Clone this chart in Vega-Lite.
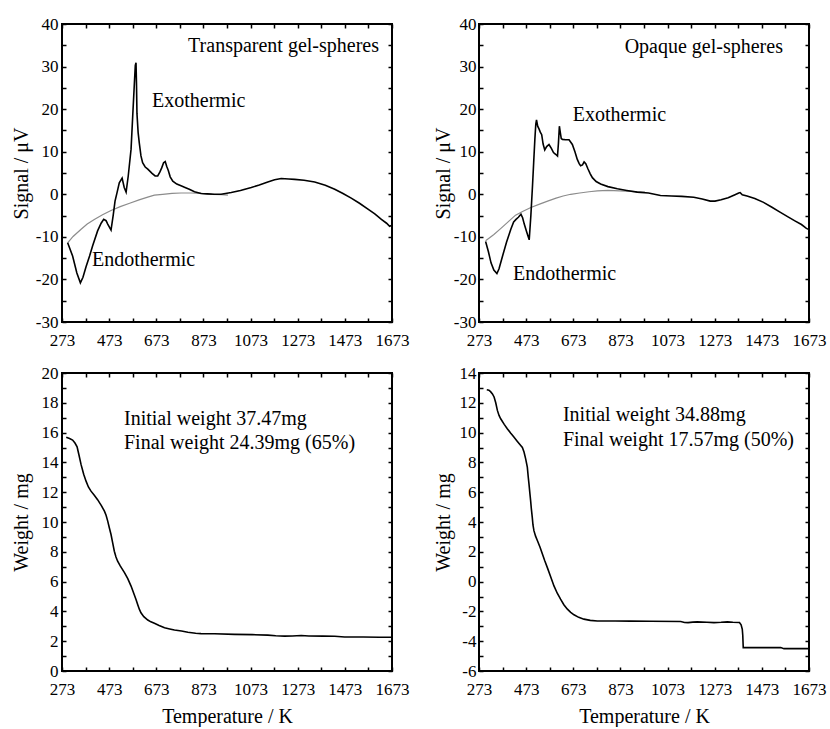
{
"$schema":"https://vega.github.io/schema/vega-lite/v6.json",
"padding":{"left":10,"top":14,"right":5,"bottom":0},
"config":{"font":"Liberation Serif","view":{"stroke":"black","strokeWidth":2},
 "axis":{"grid":false,"domain":false,"tickColor":"black","tickWidth":1.5,"labelColor":"black","labelFontSize":17,"titleFontSize":20,"titleFontWeight":"normal","titleColor":"black","labelFont":"Liberation Serif","titleFont":"Liberation Serif","labelOverlap":false,"labelFlush":false},
 "text":{"font":"Liberation Serif","fontSize":20}},
"datasets":{
"dta_t":[{"T":297,"S":-11.4},{"T":318,"S":-14.5},{"T":336,"S":-18.5},{"T":351,"S":-20.8},{"T":362,"S":-19.5},{"T":375,"S":-17},{"T":390,"S":-14.5},{"T":403,"S":-12.1},{"T":424,"S":-8.6},{"T":439,"S":-6.8},{"T":450,"S":-5.9},{"T":460,"S":-6.2},{"T":467,"S":-7.0},{"T":481,"S":-8.4},{"T":490,"S":-5},{"T":498,"S":-1.6},{"T":507,"S":0.5},{"T":516,"S":2.7},{"T":528,"S":3.8},{"T":537,"S":1.6},{"T":545,"S":0.5},{"T":554,"S":4.3},{"T":566,"S":10.6},{"T":573,"S":18.4},{"T":580,"S":26},{"T":584,"S":30.3},{"T":587,"S":30.9},{"T":589,"S":26},{"T":591,"S":19},{"T":596,"S":14.5},{"T":601,"S":12},{"T":608,"S":9},{"T":615,"S":7.4},{"T":626,"S":6.4},{"T":637,"S":5.9},{"T":655,"S":4.9},{"T":668,"S":4.3},{"T":679,"S":4.3},{"T":688,"S":5.2},{"T":696,"S":6.2},{"T":704,"S":7.4},{"T":711,"S":7.7},{"T":717,"S":6.6},{"T":724,"S":5.6},{"T":732,"S":4.1},{"T":743,"S":3.1},{"T":760,"S":2.4},{"T":778,"S":2.0},{"T":795,"S":1.6},{"T":813,"S":1.2},{"T":835,"S":0.6},{"T":863,"S":0.2},{"T":890,"S":0.1},{"T":920,"S":0},{"T":948,"S":0},{"T":991,"S":0.4},{"T":1030,"S":0.9},{"T":1076,"S":1.6},{"T":1110,"S":2.2},{"T":1146,"S":2.9},{"T":1175,"S":3.4},{"T":1203,"S":3.7},{"T":1235,"S":3.6},{"T":1260,"S":3.5},{"T":1300,"S":3.3},{"T":1345,"S":2.9},{"T":1390,"S":2.1},{"T":1430,"S":1.2},{"T":1465,"S":0.2},{"T":1500,"S":-0.9},{"T":1535,"S":-2.1},{"T":1571,"S":-3.5},{"T":1600,"S":-4.6},{"T":1628,"S":-5.9},{"T":1650,"S":-6.8},{"T":1663,"S":-7.5},{"T":1673,"S":-7.3}],
"base_t":[{"T":297,"S":-11.4},{"T":320,"S":-9.9},{"T":354,"S":-8.2},{"T":380,"S":-7.0},{"T":410,"S":-5.9},{"T":445,"S":-4.8},{"T":481,"S":-3.8},{"T":520,"S":-2.9},{"T":560,"S":-2.1},{"T":600,"S":-1.3},{"T":640,"S":-0.6},{"T":665,"S":-0.2},{"T":700,"S":0},{"T":740,"S":0.2},{"T":778,"S":0.3},{"T":820,"S":0.3},{"T":863,"S":0.2},{"T":910,"S":0},{"T":950,"S":-0.1},{"T":977,"S":-0.2}],
"dta_o":[{"T":301,"S":-11.1},{"T":313,"S":-13.5},{"T":324,"S":-16.1},{"T":336,"S":-17.8},{"T":349,"S":-18.6},{"T":358,"S":-17.5},{"T":373,"S":-14.5},{"T":390,"S":-11.2},{"T":408,"S":-8.2},{"T":420,"S":-6.5},{"T":430,"S":-5.9},{"T":440,"S":-5.4},{"T":451,"S":-4.7},{"T":458,"S":-5.5},{"T":465,"S":-7.0},{"T":476,"S":-9.0},{"T":486,"S":-10.7},{"T":493,"S":-5},{"T":500,"S":2.0},{"T":505,"S":7.5},{"T":510,"S":12.9},{"T":514,"S":16.5},{"T":517,"S":17.5},{"T":522,"S":16},{"T":528,"S":15.3},{"T":533,"S":14.6},{"T":539,"S":14.0},{"T":545,"S":11.8},{"T":552,"S":10.4},{"T":560,"S":11.2},{"T":570,"S":11.7},{"T":580,"S":10.8},{"T":589,"S":9.8},{"T":598,"S":9.4},{"T":606,"S":9.0},{"T":610,"S":12},{"T":614,"S":16.0},{"T":618,"S":14.5},{"T":622,"S":13.1},{"T":627,"S":12.9},{"T":640,"S":12.8},{"T":655,"S":12.8},{"T":669,"S":11.7},{"T":680,"S":10.0},{"T":690,"S":8.2},{"T":698,"S":7.2},{"T":704,"S":6.7},{"T":712,"S":6.9},{"T":719,"S":7.6},{"T":726,"S":7.2},{"T":735,"S":6.0},{"T":745,"S":4.8},{"T":754,"S":3.9},{"T":770,"S":3.0},{"T":789,"S":2.4},{"T":820,"S":1.8},{"T":860,"S":1.3},{"T":900,"S":0.9},{"T":944,"S":0.5},{"T":992,"S":0.3},{"T":1043,"S":-0.3},{"T":1090,"S":-0.4},{"T":1133,"S":-0.5},{"T":1184,"S":-0.7},{"T":1220,"S":-1.1},{"T":1254,"S":-1.6},{"T":1274,"S":-1.6},{"T":1300,"S":-1.3},{"T":1330,"S":-0.8},{"T":1359,"S":-0.1},{"T":1375,"S":0.3},{"T":1381,"S":0.4},{"T":1390,"S":-0.1},{"T":1410,"S":-0.4},{"T":1443,"S":-1.0},{"T":1480,"S":-1.9},{"T":1514,"S":-3.0},{"T":1550,"S":-4.2},{"T":1584,"S":-5.3},{"T":1615,"S":-6.3},{"T":1641,"S":-7.1},{"T":1662,"S":-8.0},{"T":1673,"S":-8.3}],
"base_o":[{"T":301,"S":-10.9},{"T":335,"S":-9.5},{"T":366,"S":-8.0},{"T":400,"S":-6.3},{"T":428,"S":-4.9},{"T":460,"S":-4.0},{"T":493,"S":-3.1},{"T":530,"S":-2.3},{"T":564,"S":-1.6},{"T":600,"S":-0.9},{"T":630,"S":-0.4},{"T":662,"S":0},{"T":700,"S":0.3},{"T":740,"S":0.6},{"T":775,"S":0.8},{"T":820,"S":0.9},{"T":870,"S":0.8},{"T":916,"S":0.7},{"T":950,"S":0.6},{"T":977,"S":0.5}],
"tg_t":[{"T":291,"W":15.69},{"T":305,"W":15.6},{"T":318,"W":15.5},{"T":328,"W":15.3},{"T":337,"W":15.05},{"T":345,"W":14.5},{"T":354,"W":13.85},{"T":365,"W":13.2},{"T":375,"W":12.74},{"T":385,"W":12.35},{"T":396,"W":12.07},{"T":410,"W":11.8},{"T":424,"W":11.5},{"T":440,"W":11.1},{"T":453,"W":10.73},{"T":460,"W":10.45},{"T":467,"W":10.06},{"T":474,"W":9.6},{"T":481,"W":9.16},{"T":488,"W":8.6},{"T":495,"W":8.04},{"T":502,"W":7.65},{"T":509,"W":7.37},{"T":520,"W":7.05},{"T":530,"W":6.8},{"T":538,"W":6.6},{"T":552,"W":6.2},{"T":566,"W":5.7},{"T":573,"W":5.4},{"T":580,"W":5.1},{"T":587,"W":4.8},{"T":594,"W":4.47},{"T":601,"W":4.15},{"T":608,"W":3.91},{"T":620,"W":3.65},{"T":637,"W":3.42},{"T":650,"W":3.3},{"T":665,"W":3.2},{"T":685,"W":3.05},{"T":708,"W":2.9},{"T":730,"W":2.82},{"T":750,"W":2.75},{"T":780,"W":2.68},{"T":807,"W":2.6},{"T":840,"W":2.53},{"T":863,"W":2.51},{"T":920,"W":2.5},{"T":1005,"W":2.46},{"T":1080,"W":2.44},{"T":1146,"W":2.41},{"T":1180,"W":2.37},{"T":1217,"W":2.34},{"T":1250,"W":2.35},{"T":1288,"W":2.38},{"T":1320,"W":2.35},{"T":1380,"W":2.34},{"T":1430,"W":2.33},{"T":1472,"W":2.28},{"T":1550,"W":2.28},{"T":1620,"W":2.27},{"T":1673,"W":2.27}],
"tg_o":[{"T":306,"W":12.88},{"T":315,"W":12.85},{"T":322,"W":12.75},{"T":330,"W":12.6},{"T":337,"W":12.39},{"T":344,"W":12.0},{"T":351,"W":11.49},{"T":358,"W":11.15},{"T":365,"W":10.93},{"T":380,"W":10.55},{"T":393,"W":10.26},{"T":407,"W":9.97},{"T":421,"W":9.70},{"T":435,"W":9.42},{"T":450,"W":9.13},{"T":457,"W":9.0},{"T":464,"W":8.7},{"T":471,"W":8.24},{"T":478,"W":7.68},{"T":482,"W":7.0},{"T":485,"W":6.56},{"T":489,"W":5.9},{"T":492,"W":5.43},{"T":495,"W":4.9},{"T":499,"W":4.31},{"T":502,"W":3.8},{"T":506,"W":3.42},{"T":513,"W":3.05},{"T":521,"W":2.74},{"T":532,"W":2.3},{"T":542,"W":1.85},{"T":552,"W":1.4},{"T":563,"W":0.94},{"T":577,"W":0.32},{"T":591,"W":-0.29},{"T":605,"W":-0.78},{"T":619,"W":-1.18},{"T":633,"W":-1.55},{"T":648,"W":-1.85},{"T":662,"W":-2.06},{"T":676,"W":-2.23},{"T":696,"W":-2.4},{"T":718,"W":-2.52},{"T":745,"W":-2.6},{"T":775,"W":-2.64},{"T":850,"W":-2.64},{"T":916,"W":-2.65},{"T":1000,"W":-2.66},{"T":1129,"W":-2.68},{"T":1145,"W":-2.74},{"T":1160,"W":-2.75},{"T":1180,"W":-2.72},{"T":1199,"W":-2.7},{"T":1240,"W":-2.73},{"T":1270,"W":-2.75},{"T":1300,"W":-2.73},{"T":1327,"W":-2.7},{"T":1350,"W":-2.73},{"T":1378,"W":-2.75},{"T":1385,"W":-2.9},{"T":1390,"W":-3.2},{"T":1392,"W":-3.6},{"T":1394,"W":-4.43},{"T":1450,"W":-4.43},{"T":1500,"W":-4.43},{"T":1553,"W":-4.43},{"T":1567,"W":-4.5},{"T":1620,"W":-4.5},{"T":1673,"W":-4.5}],
"ann_tl":[{"T":808,"S":34.8,"label":"Transparent gel-spheres"},{"T":655,"S":21.8,"label":"Exothermic"},{"T":400,"S":-15.5,"label":"Endothermic"}],
"ann_tr":[{"T":891,"S":34.5,"label":"Opaque gel-spheres"},{"T":671,"S":18.6,"label":"Exothermic"},{"T":417,"S":-18.8,"label":"Endothermic"}],
"ann_bl":[{"T":536,"W":16.9,"label":"Initial weight 37.47mg"},{"T":536,"W":15.3,"label":"Final weight 24.39mg (65%)"}],
"ann_br":[{"T":629,"W":11.17,"label":"Initial weight 34.88mg"},{"T":629,"W":9.49,"label":"Final weight 17.57mg (50%)"}]
},
"columns":2,
"spacing":{"row":51,"column":87},
"bounds":"flush",
"concat":[
{"width":330,"height":298,
 "layer":[
  {"data":{"name":"base_t"},"mark":{"type":"line","color":"#8c8c8c","strokeWidth":1.2},
   "encoding":{"x":{"field":"T","type":"quantitative","scale":{"domain":[273,1673],"nice":false,"zero":false},"axis":null},
               "y":{"field":"S","type":"quantitative","scale":{"domain":[-30,40],"nice":false,"zero":false},"axis":null}}},
  {"data":{"name":"dta_t"},"mark":{"type":"line","color":"black","strokeWidth":1.6},
   "encoding":{"x":{"field":"T","type":"quantitative","axis":{"orient":"bottom","values":[273,373,473,573,673,773,873,973,1073,1173,1273,1373,1473,1573,1673],"labelExpr":"(datum.value-273)%200==0 ? ''+datum.value : ''","title":null,"tickSize":-4,"labelPadding":14}},
               "y":{"field":"S","type":"quantitative","axis":{"orient":"left","values":[-30,-25,-20,-15,-10,-5,0,5,10,15,20,25,30,35,40],"labelExpr":"datum.value%10==0 ? ''+datum.value : ''","title":"Signal / μV","titleX":-31,"tickSize":-4,"labelPadding":8}}}},
  {"data":{"name":"ann_tl"},"mark":{"type":"text","align":"left","baseline":"middle","color":"black"},
   "encoding":{"x":{"field":"T","type":"quantitative","axis":{"orient":"top","values":[273,373,473,573,673,773,873,973,1073,1173,1273,1373,1473,1573,1673],"labels":false,"title":null,"tickSize":-4}},
               "y":{"field":"S","type":"quantitative","axis":{"orient":"right","values":[-30,-25,-20,-15,-10,-5,0,5,10,15,20,25,30,35,40],"labels":false,"title":null,"tickSize":-4}},
               "text":{"field":"label"}}}
 ],
 "resolve":{"axis":{"x":"independent","y":"independent"}}},
{"width":330,"height":298,
 "layer":[
  {"data":{"name":"base_o"},"mark":{"type":"line","color":"#8c8c8c","strokeWidth":1.2},
   "encoding":{"x":{"field":"T","type":"quantitative","scale":{"domain":[273,1673],"nice":false,"zero":false},"axis":null},
               "y":{"field":"S","type":"quantitative","scale":{"domain":[-30,40],"nice":false,"zero":false},"axis":null}}},
  {"data":{"name":"dta_o"},"mark":{"type":"line","color":"black","strokeWidth":1.6},
   "encoding":{"x":{"field":"T","type":"quantitative","axis":{"orient":"bottom","values":[273,373,473,573,673,773,873,973,1073,1173,1273,1373,1473,1573,1673],"labelExpr":"(datum.value-273)%200==0 ? ''+datum.value : ''","title":null,"tickSize":-4,"labelPadding":14}},
               "y":{"field":"S","type":"quantitative","axis":{"orient":"left","values":[-30,-25,-20,-15,-10,-5,0,5,10,15,20,25,30,35,40],"labelExpr":"datum.value%10==0 ? ''+datum.value : ''","title":"Signal / μV","titleX":-26,"tickSize":-4,"labelPadding":7}}}},
  {"data":{"name":"ann_tr"},"mark":{"type":"text","align":"left","baseline":"middle","color":"black"},
   "encoding":{"x":{"field":"T","type":"quantitative","axis":{"orient":"top","values":[273,373,473,573,673,773,873,973,1073,1173,1273,1373,1473,1573,1673],"labels":false,"title":null,"tickSize":-4}},
               "y":{"field":"S","type":"quantitative","axis":{"orient":"right","values":[-30,-25,-20,-15,-10,-5,0,5,10,15,20,25,30,35,40],"labels":false,"title":null,"tickSize":-4}},
               "text":{"field":"label"}}}
 ],
 "resolve":{"axis":{"x":"independent","y":"independent"}}},
{"width":330,"height":298,
 "layer":[
  {"data":{"name":"tg_t"},"mark":{"type":"line","color":"black","strokeWidth":1.6},
   "encoding":{"x":{"field":"T","type":"quantitative","scale":{"domain":[273,1673],"nice":false,"zero":false},"axis":{"orient":"bottom","values":[273,373,473,573,673,773,873,973,1073,1173,1273,1373,1473,1573,1673],"labelExpr":"(datum.value-273)%200==0 ? ''+datum.value : ''","title":"Temperature / K","titleY":35,"tickSize":-4,"labelPadding":14}},
               "y":{"field":"W","type":"quantitative","scale":{"domain":[0,20],"nice":false,"zero":false},"axis":{"orient":"left","values":[0,1,2,3,4,5,6,7,8,9,10,11,12,13,14,15,16,17,18,19,20],"labelExpr":"datum.value%2==0 ? ''+datum.value : ''","title":"Weight / mg","titleX":-31,"tickSize":-4,"labelPadding":8}}}},
  {"data":{"name":"ann_bl"},"mark":{"type":"text","align":"left","baseline":"middle","color":"black"},
   "encoding":{"x":{"field":"T","type":"quantitative","axis":{"orient":"top","values":[273,373,473,573,673,773,873,973,1073,1173,1273,1373,1473,1573,1673],"labels":false,"title":null,"tickSize":-4}},
               "y":{"field":"W","type":"quantitative","axis":{"orient":"right","values":[0,1,2,3,4,5,6,7,8,9,10,11,12,13,14,15,16,17,18,19,20],"labels":false,"title":null,"tickSize":-4}},
               "text":{"field":"label"}}}
 ],
 "resolve":{"axis":{"x":"independent","y":"independent"}}},
{"width":330,"height":298,
 "layer":[
  {"data":{"name":"tg_o"},"mark":{"type":"line","color":"black","strokeWidth":1.6},
   "encoding":{"x":{"field":"T","type":"quantitative","scale":{"domain":[273,1673],"nice":false,"zero":false},"axis":{"orient":"bottom","values":[273,373,473,573,673,773,873,973,1073,1173,1273,1373,1473,1573,1673],"labelExpr":"(datum.value-273)%200==0 ? ''+datum.value : ''","title":"Temperature / K","titleY":35,"tickSize":-4,"labelPadding":14}},
               "y":{"field":"W","type":"quantitative","scale":{"domain":[-6,14],"nice":false,"zero":false},"axis":{"orient":"left","values":[-6,-5,-4,-3,-2,-1,0,1,2,3,4,5,6,7,8,9,10,11,12,13,14],"labelExpr":"datum.value%2==0 ? ''+datum.value : ''","title":"Weight / mg","titleX":-26,"tickSize":-4,"labelPadding":7}}}},
  {"data":{"name":"ann_br"},"mark":{"type":"text","align":"left","baseline":"middle","color":"black"},
   "encoding":{"x":{"field":"T","type":"quantitative","axis":{"orient":"top","values":[273,373,473,573,673,773,873,973,1073,1173,1273,1373,1473,1573,1673],"labels":false,"title":null,"tickSize":-4}},
               "y":{"field":"W","type":"quantitative","axis":{"orient":"right","values":[-6,-5,-4,-3,-2,-1,0,1,2,3,4,5,6,7,8,9,10,11,12,13,14],"labels":false,"title":null,"tickSize":-4}},
               "text":{"field":"label"}}}
 ],
 "resolve":{"axis":{"x":"independent","y":"independent"}}}
]
}
